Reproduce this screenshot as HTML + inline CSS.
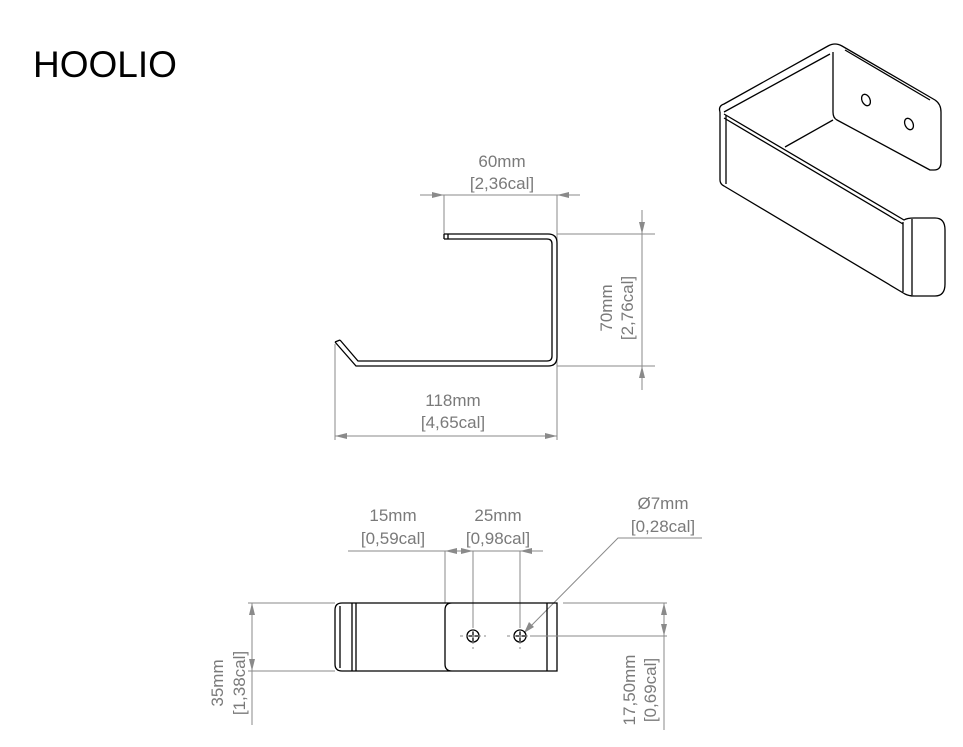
<!DOCTYPE html>
<html><head><meta charset="utf-8"><style>
html,body{margin:0;padding:0;background:#fff;}
svg{display:block;}
.t{font-family:"Liberation Sans",sans-serif;font-size:17px;fill:#7a7a7a;text-anchor:middle;}
.d{stroke:#8a8a8a;stroke-width:1;fill:none;}
.k{stroke:#000;stroke-width:1.3;fill:none;}
.a{fill:#8a8a8a;}
</style></head><body>
<svg width="963" height="747" viewBox="0 0 963 747" xmlns="http://www.w3.org/2000/svg">
<text x="33" y="77" style="font-family:'Liberation Sans',sans-serif;font-size:37px;fill:#000">HOOLIO</text>

<!-- top view -->
<text class="t" x="502" y="167">60mm</text>
<text class="t" x="502" y="189">[2,36cal]</text>
<path class="d" d="M420 195H580 M444 195V234 M557 195V440"/>
<polygon class="a" points="444,195 432,192 432,198"/>
<polygon class="a" points="557,195 569,192 569,198"/>
<path class="k" d="M444 234H548Q557 234 557 243V357Q557 366 548 366H356L335 342 M444 239H547Q552 239 552 244V356Q552 361 547 361H358L340 340 M444 234V239 M448 234V239 M335 342L340 340"/>
<path class="d" d="M557 234H655 M557 366H655 M642 210V390"/>
<polygon class="a" points="642,234 639,222 645,222"/>
<polygon class="a" points="642,366 639,378 645,378"/>
<text class="t" transform="translate(612,308) rotate(-90)">70mm</text>
<text class="t" transform="translate(633,308) rotate(-90)">[2,76cal]</text>
<text class="t" x="453" y="406">118mm</text>
<text class="t" x="453" y="428">[4,65cal]</text>
<path class="d" d="M335 344V440 M335 436H557"/>
<polygon class="a" points="335,436 347,433 347,439"/>
<polygon class="a" points="557,436 545,433 545,439"/>

<!-- bottom view -->
<text class="t" x="393" y="521">15mm</text>
<text class="t" x="393" y="544">[0,59cal]</text>
<text class="t" x="498" y="521">25mm</text>
<text class="t" x="498" y="544">[0,98cal]</text>
<text class="t" x="663" y="509">Ø7mm</text>
<text class="t" x="663" y="532">[0,28cal]</text>
<path class="d" d="M348 551H543 M445 551V603 M473 551V628 M520 551V628 M702 538H618L524 633"/>
<polygon class="a" points="445,551 457,548 457,554"/>
<polygon class="a" points="473,551 461,548 461,554"/>
<polygon class="a" points="520,551 532,548 532,554"/>
<polygon class="a" points="524,633 529,622 534,627"/>
<path class="k" d="M342 603H557V671H342Q335 671 335 664V610Q335 603 342 603Z M352 603V671 M356 603V671 M340 606V668 M452 603Q445 603 445 610V664Q445 671 452 671 M547 603V671"/>
<circle class="k" cx="473" cy="636" r="6"/><circle class="k" cx="520" cy="636" r="6"/>
<path class="k" d="M466 636H480M473 629V643M513 636H527M520 629V643"/>
<path class="d" stroke-dasharray="3,3" d="M460 636H486 M473 623V649 M507 636H533 M520 623V649"/>
<path class="d" d="M248 603H335 M248 671H335 M252 603V725 M563 603H667 M530 636H667 M664 603V730"/>
<polygon class="a" points="252,603 249,615 255,615"/>
<polygon class="a" points="252,671 249,659 255,659"/>
<polygon class="a" points="664,603 661,615 667,615"/>
<polygon class="a" points="664,636 661,624 667,624"/>
<text class="t" transform="translate(223,683) rotate(-90)">35mm</text>
<text class="t" transform="translate(245,683) rotate(-90)">[1,38cal]</text>
<text class="t" transform="translate(635,690) rotate(-90)">17,50mm</text>
<text class="t" transform="translate(656,690) rotate(-90)">[0,69cal]</text>

<!-- isometric -->
<g class="k" stroke-linejoin="round">
<path d="M720 112Q718 106 724 104L828 46Q835 42 842 46L935 100Q941 104 941 112V162Q941 170 934 170H930L837 120Q833 118 833 112V52"/>
<path d="M724 112L830 54 M845 50L930 100"/>
<ellipse cx="866" cy="100" rx="4" ry="6" transform="rotate(-25 866 100)"/><ellipse cx="909" cy="124" rx="4" ry="6" transform="rotate(-25 909 124)"/>
<path d="M833 120L785 147"/>
<path d="M720 112V180Q720 184 724 186L905 294Q909 296 914 296H935Q945 296 945 284V230Q945 218 935 218H914Q907 218 904 220L724 114"/>
<path d="M726 115V184 M903 222V292 M912 219V295 M724 118L903 224"/>
</g>
</svg>
</body></html>
